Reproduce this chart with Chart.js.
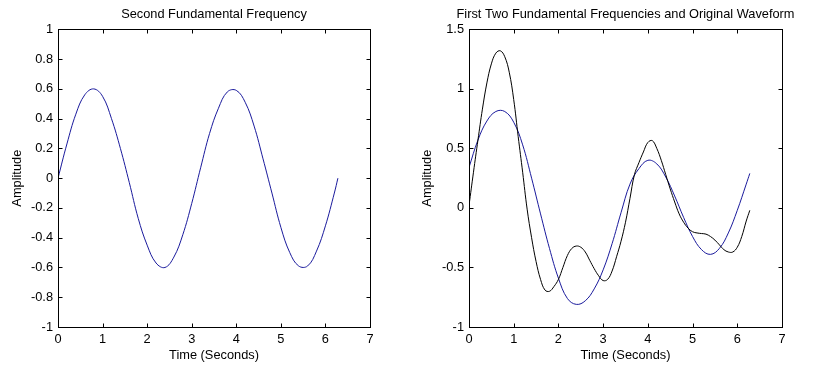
<!DOCTYPE html>
<html>
<head>
<meta charset="utf-8">
<script src="https://cdn.jsdelivr.net/npm/chart.js@4.4.1/dist/chart.umd.min.js"></script>
<style>
  html, body { margin: 0; padding: 0; background: #fff; }
  #wrap { position: relative; width: 816px; height: 365px; }
  canvas { position: absolute; top: 0; }
  #c1 { left: 0; }
  #c2 { left: 408px; }
</style>
</head>
<body>
<div id="wrap">
  <canvas id="c1" width="408" height="365"></canvas>
  <canvas id="c2" width="408" height="365"></canvas>
</div>
<script>
// --- datos ---
const xTicks = [0, 1, 2, 3, 4, 5, 6, 7];
const yTicksLeft = [-1, -0.8, -0.6, -0.4, -0.2, 0, 0.2, 0.4, 0.6, 0.8, 1];
const yTicksRight = [-1, -0.5, 0, 0.5, 1, 1.5];

// izquierda: segunda frecuencia fundamental
const tLeft = [0, 0.2, 0.4, 0.6, 0.8, 1.0, 1.2, 1.4, 1.6, 1.8, 2.0, 2.2, 2.4, 2.6, 2.8, 3.0,
  3.2, 3.4, 3.6, 3.8, 4.0, 4.2, 4.4, 4.6, 4.8, 5.0, 5.2, 5.4, 5.6, 5.8, 6.0, 6.2, 6.28];
const secondFreq = [0, 0.23, 0.43, 0.56, 0.60, 0.55, 0.40, 0.20, -0.03, -0.27, -0.45, -0.57, -0.60, -0.53, -0.38, -0.17,
  0.07, 0.30, 0.47, 0.58, 0.59, 0.51, 0.35, 0.13, -0.10, -0.33, -0.50, -0.59, -0.59, -0.49, -0.32, -0.10, 0];

// derecha: dos primeras frecuencias (azul)
const tTwo = tLeft;
const firstTwo = [0.34, 0.57, 0.73, 0.81, 0.81, 0.72, 0.53, 0.25, -0.05, -0.34, -0.59, -0.76, -0.81, -0.78, -0.68, -0.52,
  -0.30, -0.04, 0.20, 0.33, 0.40, 0.37, 0.26, 0.10, -0.08, -0.24, -0.35, -0.39, -0.34, -0.21, -0.02, 0.20, 0.29];

// derecha: forma de onda original (negro)
const tOrig = [0, 0.1, 0.2, 0.3, 0.4, 0.5, 0.6, 0.7, 0.8, 0.9, 1.0, 1.1, 1.2, 1.3, 1.4, 1.5, 1.6, 1.7, 1.8, 1.9,
  2.0, 2.1, 2.2, 2.3, 2.4, 2.5, 2.6, 2.7, 2.8, 2.9, 3.0, 3.1, 3.2, 3.3, 3.4, 3.5, 3.6, 3.7, 3.8, 3.9,
  4.0, 4.1, 4.2, 4.3, 4.4, 4.5, 4.6, 4.7, 4.8, 4.9, 5.0, 5.1, 5.2, 5.3, 5.4, 5.5, 5.6, 5.7, 5.8, 5.9,
  6.0, 6.1, 6.2, 6.28];
const original = [0.02, 0.30, 0.57, 0.83, 1.05, 1.21, 1.30, 1.32, 1.27, 1.14, 0.91, 0.60, 0.30, -0.01, -0.25, -0.45, -0.60, -0.69, -0.70, -0.66,
  -0.60, -0.50, -0.40, -0.34, -0.32, -0.33, -0.37, -0.44, -0.51, -0.57, -0.61, -0.60, -0.53, -0.41, -0.28, -0.12, 0.08, 0.28, 0.38, 0.47,
  0.55, 0.565, 0.50, 0.40, 0.28, 0.16, 0.05, -0.05, -0.12, -0.17, -0.20, -0.21, -0.215, -0.22, -0.24, -0.27, -0.31, -0.35, -0.37, -0.37,
  -0.33, -0.24, -0.11, -0.02];

const BLUE = '#1a1a9c';
const FONT = { family: 'Liberation Sans, Arial, sans-serif', size: 12.8 };

function pts(xs, ys) { return xs.map((x, i) => ({ x: x, y: ys[i] })); }

// caja con marcas hacia adentro (estilo matlab)
const boxTicks = {
  id: 'boxTicks',
  afterLayout(chart) {
    // el titulo queda centrado sobre el area, pero sin encogerse
    const tb = chart.titleBlock;
    if (tb) { tb.left -= 45; tb.right += 45; tb.width += 90; }
  },
  afterDraw(chart) {
    const { ctx, chartArea: a, scales: { x, y } } = chart;
    const L = Math.round(a.left) + 0.5, R = Math.round(a.right) + 0.5;
    const T = Math.round(a.top) + 0.5, B = Math.round(a.bottom) + 0.5;
    const len = 4;
    ctx.save();
    ctx.strokeStyle = '#000';
    ctx.lineWidth = 1;
    ctx.strokeRect(L, T, R - L, B - T);
    ctx.beginPath();
    x.ticks.forEach(t => {
      const px = Math.round(x.getPixelForValue(t.value)) + 0.5;
      ctx.moveTo(px, B); ctx.lineTo(px, B - len);
      ctx.moveTo(px, T); ctx.lineTo(px, T + len);
    });
    y.ticks.forEach(t => {
      const py = Math.round(y.getPixelForValue(t.value)) + 0.5;
      ctx.moveTo(L, py); ctx.lineTo(L + len, py);
      ctx.moveTo(R, py); ctx.lineTo(R - len, py);
    });
    ctx.stroke();
    ctx.restore();
  }
};

function makeChart(id, title, datasets, yTicks, yMin, yMax, yWidth, yTitlePad, rightPad) {
  return new Chart(document.getElementById(id), {
    type: 'line',
    data: { datasets: datasets },
    options: {
      responsive: false,
      animation: false,
      layout: { padding: { left: 0, right: rightPad, top: 0, bottom: 0 } },
      plugins: {
        legend: { display: false },
        tooltip: { enabled: false },
        title: {
          display: true, text: title, fullSize: false, color: '#000',
          font: { family: FONT.family, size: FONT.size, weight: 'normal' },
          padding: { top: 7, bottom: 7 }
        }
      },
      scales: {
        x: {
          type: 'linear', min: 0, max: 7,
          afterBuildTicks: s => { s.ticks = xTicks.map(v => ({ value: v })); },
          afterFit: s => { s.height = 38; },
          grid: { display: false, drawTicks: false },
          border: { display: false },
          ticks: { color: '#000', font: FONT, padding: 5, maxRotation: 0, callback: v => String(v) },
          title: { display: true, text: 'Time (Seconds)', color: '#000', font: FONT, padding: { top: 0, bottom: 2 } }
        },
        y: {
          type: 'linear', min: yMin, max: yMax,
          afterBuildTicks: s => { s.ticks = yTicks.map(v => ({ value: v })); },
          afterFit: s => { s.width = yWidth; },
          grid: { display: false, drawTicks: false },
          border: { display: false },
          ticks: { color: '#000', font: FONT, padding: 5, callback: v => String(v) },
          title: { display: true, text: 'Amplitude', color: '#000', font: FONT, padding: { top: yTitlePad, bottom: 0 } }
        }
      }
    },
    plugins: [boxTicks]
  });
}

function line(xs, ys, color) {
  return {
    data: pts(xs, ys), borderColor: color, borderWidth: 1,
    pointRadius: 0, tension: 0.4, fill: false
  };
}

makeChart('c1', 'Second Fundamental Frequency',
  [line(tLeft, secondFreq, BLUE)],
  yTicksLeft, -1, 1, 58, 10, 38);

makeChart('c2', 'First Two Fundamental Frequencies and Original Waveform',
  [line(tOrig, original, '#000'), line(tTwo, firstTwo, BLUE)],
  yTicksRight, -1, 1.5, 61, 12, 34);
</script>
</body>
</html>
